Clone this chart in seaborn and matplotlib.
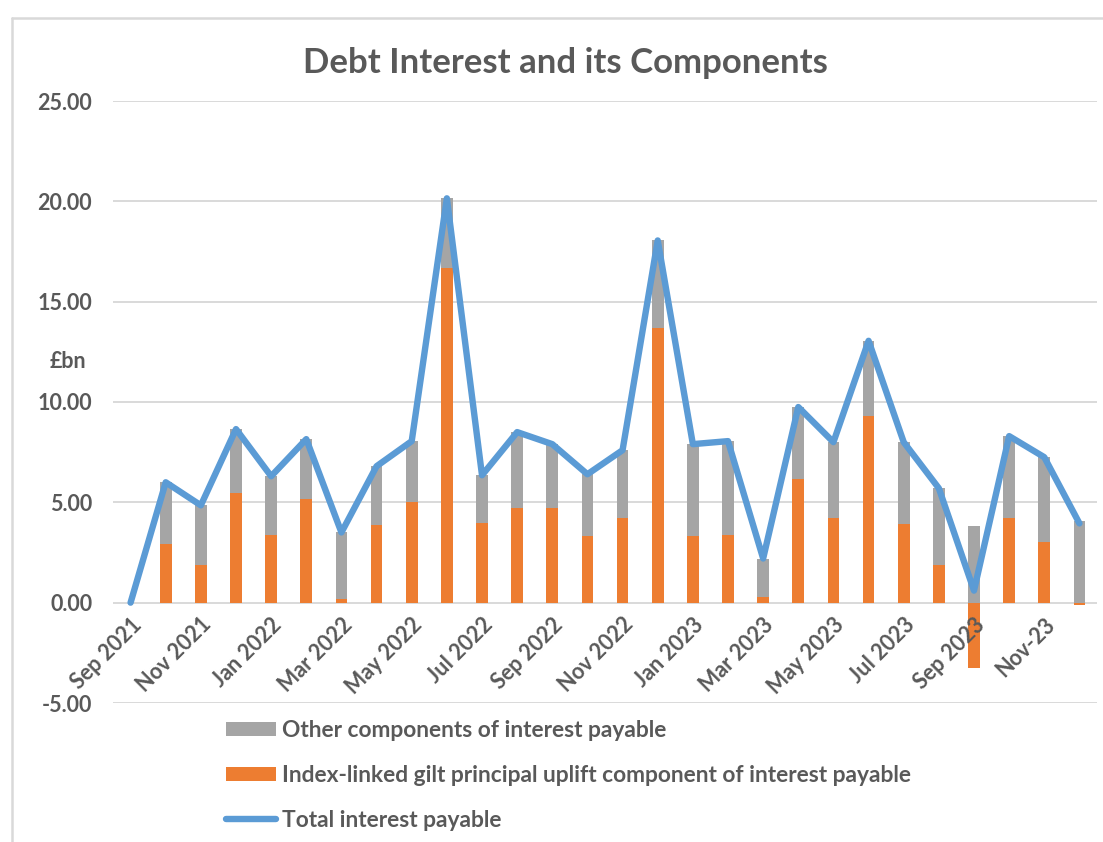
import numpy as np
import pandas as pd
import matplotlib
matplotlib.use("Agg")
import matplotlib.pyplot as plt
from matplotlib.lines import Line2D
from matplotlib.patches import Patch
import seaborn as sns

# ---- data (GBP bn) ----
months = ["Sep 2021", "Oct 2021", "Nov 2021", "Dec 2021", "Jan 2022", "Feb 2022", "Mar 2022",
          "Apr 2022", "May 2022", "Jun 2022", "Jul 2022", "Aug 2022", "Sep 2022", "Oct 2022",
          "Nov 2022", "Dec 2022", "Jan 2023", "Feb 2023", "Mar 2023", "Apr 2023", "May 2023",
          "Jun 2023", "Jul 2023", "Aug 2023", "Sep 2023", "Oct 2023", "Nov-23", "Dec 2023"]
index_linked = [0.0, 2.9, 1.9, 5.45, 3.35, 5.15, 0.17, 3.85, 5.0, 16.7, 3.95, 4.7, 4.7, 3.3,
                4.2, 13.7, 3.3, 3.35, 0.3, 6.15, 4.2, 9.3, 3.9, 1.9, -3.24, 4.2, 3.0, -0.1]
total = [0.0, 6.0, 4.85, 8.65, 6.3, 8.15, 3.5, 6.8, 8.05, 20.15, 6.35, 8.5, 7.9, 6.4,
         7.6, 18.05, 7.9, 8.05, 2.2, 9.75, 8.0, 13.05, 8.0, 5.7, 0.6, 8.3, 7.25, 3.95]
tick_labels = ["Sep 2021", "Nov 2021", "Jan 2022", "Mar 2022", "May 2022", "Jul 2022",
               "Sep 2022", "Nov 2022", "Jan 2023", "Mar 2023", "May 2023", "Jul 2023",
               "Sep 2023", "Nov-23"]
y_ticks = [-5, 0, 5, 10, 15, 20, 25]

title = "Debt Interest and its Components"
label_other = "Other components of interest payable"
label_il = "Index-linked gilt principal uplift component of interest payable"
label_total = "Total interest payable"

# ---- styling ----
GREY = "#A5A5A5"
ORANGE = "#ED7D31"
BLUE = "#5B9BD5"
TEXT = "#595959"
GRID = "#D9D9D9"

sns.set_theme(style="white")
plt.rcParams["font.family"] = ["Lato", "DejaVu Sans"]

df = pd.DataFrame({"month": months, "index_linked": index_linked, "total": total})
df["other"] = df["total"] - df["index_linked"]
df["pos_top"] = df["index_linked"].clip(lower=0) + df["other"]
df["pos"] = np.arange(len(df))

fig = plt.figure(figsize=(11.03, 8.42), dpi=100)
W, H = 1103, 842
ax = fig.add_axes([113 / W, 1 - 703 / H, (1097 - 113) / W, (703 - 101) / H])

# grey (other) stacked above the positive part of the index-linked component
sns.barplot(data=df, x="month", y="pos_top", color=GREY, width=0.33, saturation=1,
            ax=ax, zorder=2, linewidth=0, order=months)
sns.barplot(data=df, x="month", y="index_linked", color=ORANGE, width=0.33, saturation=1,
            ax=ax, zorder=3, linewidth=0, order=months)
sns.lineplot(data=df, x="pos", y="total", color=BLUE, linewidth=4.6, sort=False, ax=ax,
             zorder=4, solid_joinstyle="round", solid_capstyle="round")

ax.set_xlim(-0.5, len(months) - 0.5)
ax.set_ylim(-5, 25)
ax.set_yticks(y_ticks)
ax.set_yticklabels([f"{v:.2f}" for v in y_ticks])
ax.set_xticks(np.arange(0, len(months), 2))
ax.set_xticklabels(tick_labels)
ax.set_xlabel("")
ax.set_ylabel("")

ax.grid(axis="y", color=GRID, linewidth=1.4)
ax.grid(axis="x", visible=False)
ax.set_axisbelow(False)
ax.yaxis.set_zorder(0.5)
ax.xaxis.set_zorder(3.5)
for s in ["top", "right", "left"]:
    ax.spines[s].set_visible(False)
ax.spines["bottom"].set_position(("data", 0))
ax.spines["bottom"].set_visible(False)
ax.tick_params(axis="y", length=0, pad=15, labelsize=15.5, labelcolor=TEXT)
ax.tick_params(axis="x", length=0, pad=8, labelsize=15.5, labelcolor=TEXT)
for t in ax.get_yticklabels():
    t.set_fontweight("bold")
for t in ax.get_xticklabels():
    t.set_fontweight("bold")
    t.set_rotation(45)
    t.set_ha("right")
    t.set_va("top")
    t.set_rotation_mode("anchor")

fig.text(565 / W, 1 - 63 / H, title, ha="center", va="center", fontsize=25,
         fontweight="bold", color=TEXT)
fig.text(68 / W, 1 - 362 / H, "£bn", ha="center", va="center", fontsize=15.5,
         fontweight="bold", color=TEXT)

# chart border (left and top edges visible)
fig.add_artist(Line2D([12 / W, 12 / W], [0, 1 - 18 / H], transform=fig.transFigure,
                      color=GRID, linewidth=1.8))
fig.add_artist(Line2D([12 / W, 1], [1 - 18 / H, 1 - 18 / H], transform=fig.transFigure,
                      color=GRID, linewidth=1.8))

handles = [Patch(facecolor=GREY, edgecolor="none", label=label_other),
           Patch(facecolor=ORANGE, edgecolor="none", label=label_il),
           Line2D([0], [0], color=BLUE, linewidth=4.6, solid_capstyle="round", label=label_total)]
leg = fig.legend(handles=handles, loc="upper left", bbox_to_anchor=(226 / W, 1 - 720 / H),
                 frameon=False, prop={"size": 16.4, "weight": "bold"}, labelcolor=TEXT,
                 handlelength=2.2, handleheight=0.55, handletextpad=0.28, labelspacing=1.05,
                 borderpad=0, borderaxespad=0)

fig.savefig("out.png", dpi=100, facecolor="white")
